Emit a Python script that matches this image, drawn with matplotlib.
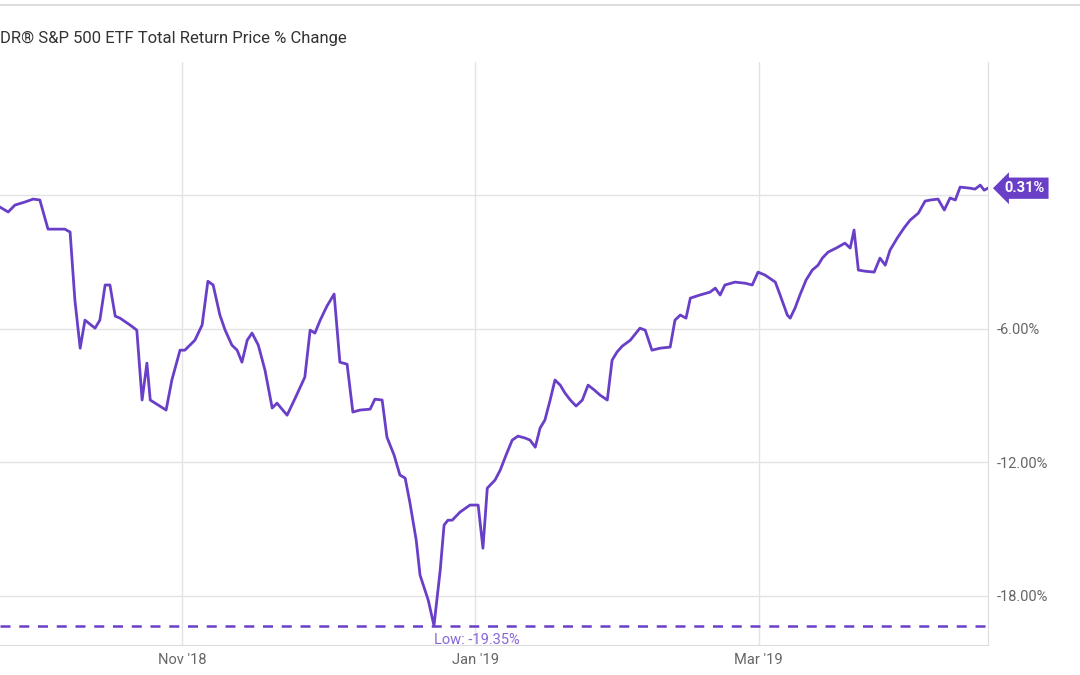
import pandas as pd
import matplotlib.pyplot as plt
import matplotlib.dates as mdates
from matplotlib.lines import Line2D

# (days after 2018-09-24, % change)
points = [
    (0, -0.54), (1.7, -0.76), (3.1, -0.45), (5.2, -0.31), (6.9, -0.18), (8.3, -0.22), (10, -1.53), (11.5, -1.53),
    (13.5, -1.53), (14.6, -1.66), (15.6, -4.72), (16.7, -6.88), (17.7, -5.62), (19.8, -5.98), (20.8, -5.62),
    (21.9, -4.04), (22.9, -4.04), (24, -5.44), (25, -5.53), (27.1, -5.84), (28.5, -6.07), (29.6, -9.21),
    (30.6, -7.55), (31.3, -9.21), (33.3, -9.48), (34.6, -9.66), (35.8, -8.31), (37.5, -6.97), (38.5, -6.97),
    (40.6, -6.52), (42.1, -5.84), (43.3, -3.87), (44.4, -4.04), (45.8, -5.39), (46.9, -6.07), (48.3, -6.74),
    (49.4, -6.97), (50.4, -7.51), (51.5, -6.52), (52.5, -6.20), (53.8, -6.74), (55.2, -7.87), (56.7, -9.57),
    (57.7, -9.35), (59.8, -9.89), (61.5, -9.12), (63.5, -8.18), (64.6, -6.07), (65.6, -6.20), (66.7, -5.62),
    (68.1, -4.99), (69.6, -4.45), (70.8, -7.51), (72.3, -7.60), (73.5, -9.75), (75, -9.66), (77.1, -9.62),
    (78.1, -9.17), (79.6, -9.21), (80.6, -10.88), (82.1, -11.69), (83.3, -12.58), (84.4, -12.72),
    (85.4, -13.84), (86.7, -15.51), (87.5, -17.08), (89.2, -18.20), (90.4, -19.35), (91.7, -16.85),
    (92.5, -14.83), (93.3, -14.61), (94.2, -14.61), (95.8, -14.25), (97.9, -13.93), (99.6, -13.93),
    (100.6, -15.87), (101.5, -13.17), (103.1, -12.81), (104.2, -12.36), (105.4, -11.69), (106.7, -11.01),
    (107.9, -10.83), (109.4, -10.92), (110.4, -11.01), (111.5, -11.33), (112.5, -10.47), (113.5, -10.11),
    (114.6, -9.21), (115.6, -8.31), (116.7, -8.54), (117.7, -8.90), (118.8, -9.21), (120, -9.48),
    (121.3, -9.21), (122.5, -8.54), (123.8, -8.76), (125, -8.99), (126.5, -9.21), (127.5, -7.42),
    (128.5, -7.06), (129.6, -6.79), (131.3, -6.52), (133.3, -5.98), (134.4, -6.07), (135.8, -6.97),
    (137.5, -6.88), (139.6, -6.83), (140.6, -5.62), (141.7, -5.39), (142.9, -5.53), (143.8, -4.63),
    (145.8, -4.49), (147.9, -4.36), (149, -4.18), (150, -4.49), (151, -4.04), (153.1, -3.91), (155.2, -3.96),
    (156.7, -4.04), (157.9, -3.46), (159.4, -3.60), (161.5, -3.91), (162.5, -4.49), (164, -5.39),
    (164.6, -5.53), (165.6, -5.08), (166.7, -4.45), (167.9, -3.82), (169.2, -3.37), (170.4, -3.15),
    (171.3, -2.83), (172.5, -2.56), (174.2, -2.38), (176, -2.16), (177.1, -2.38), (177.9, -1.57),
    (178.8, -3.37), (180.2, -3.42), (182.1, -3.46), (183.3, -2.83), (184.4, -3.15), (185.4, -2.47),
    (186.9, -1.93), (188.3, -1.48), (189.6, -1.12), (191.3, -0.81), (192.7, -0.27), (193.8, -0.22),
    (195.4, -0.18), (196.7, -0.67), (197.9, -0.13), (199, -0.22), (200, 0.36), (202.1, 0.31),
    (203.1, 0.27), (204.2, 0.45), (205, 0.22), (205.8, 0.31),
]
days = [p[0] for p in points]
pct = [p[1] for p in points]
start = pd.Timestamp('2018-09-24')
dates = [start + pd.Timedelta(days=d) for d in days]

low = -19.35
last = 0.31
purple = '#6a3fc8'
grey = '#666666'

plt.rcParams['font.family'] = ['Roboto', 'DejaVu Sans']
fig = plt.figure(figsize=(10.8, 6.75), dpi=100)
ax = fig.add_axes([0, 0.0444, 0.9148, 0.8637])

ax.plot(dates, pct, color=purple, lw=2)
ax.axhline(low, color=purple, lw=1.8, ls=(0, (4, 3.5)))

ax.set_xlim(dates[0], dates[-1])
ax.set_ylim(-20.22, 5.98)
ax.set_yticks([0, -6, -12, -18])
ax.set_yticklabels(['', '-6.00%', '-12.00%', '-18.00%'])
ax.yaxis.tick_right()
ax.xaxis.set_major_locator(mdates.MonthLocator(bymonth=[11, 1, 3]))
ax.xaxis.set_major_formatter(mdates.DateFormatter("%b '%y"))
ax.tick_params(length=0, labelsize=10.5, colors=grey, pad=6)
ax.grid(color='#e3e3e3', lw=1)
for s in ['left', 'top']:
    ax.spines[s].set_visible(False)
for s in ['right', 'bottom']:
    ax.spines[s].set_color('#dddddd')

ax.text(dates[days.index(90.4)], low - 0.35, 'Low: -19.35%', color='#8a66d8',
        fontsize=10.5, va='top', ha='left')
ax.annotate(f'{last:.2f}%', xy=(1.0, last), xycoords=('axes fraction', 'data'),
            xytext=(12, 0), textcoords='offset points', color='white', fontsize=10.5,
            fontweight='bold', va='center', ha='left',
            bbox=dict(boxstyle='larrow,pad=0.25', fc=purple, ec='none'))

fig.text(0.0, 0.937, 'DR® S&P 500 ETF Total Return Price % Change', fontsize=12, color='#333333')
fig.add_artist(Line2D([0, 1], [0.993, 0.993], color='#dddddd', lw=1.5))

fig.savefig('out.png')
